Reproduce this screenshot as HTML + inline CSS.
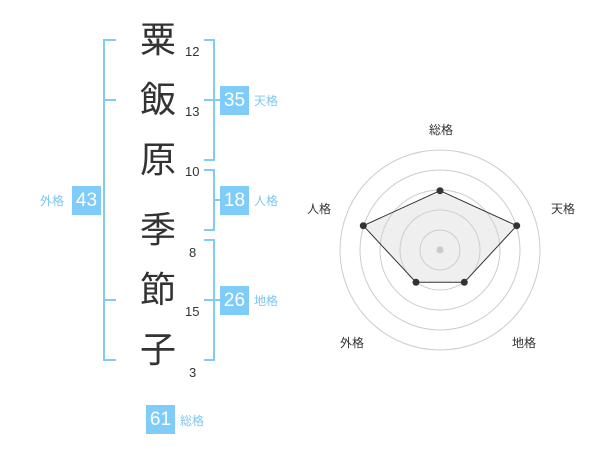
<!DOCTYPE html><html><head><meta charset="utf-8"><style>
body{margin:0;width:600px;height:470px;background:#fff;position:relative;overflow:hidden;font-family:"Liberation Sans","Noto Sans CJK JP",sans-serif}
.k{position:absolute;left:138px;width:40px;text-align:center;font-size:36px;line-height:40px;color:#333}
.n{position:absolute;font-size:13px;color:#333;line-height:14px}
.b{position:absolute;width:29px;height:29px;background:#80ccf9;color:#fff;font-size:19px;line-height:29px;text-align:center}
.l{position:absolute;font-size:12px;color:#7cc6f2;line-height:14px}
.v{position:absolute;background:#80ccf5}
</style></head><body>
<div class="k" style="top:20px">粟</div>
<div class="k" style="top:80px">飯</div>
<div class="k" style="top:140px">原</div>
<div class="k" style="top:210px">季</div>
<div class="k" style="top:270px">節</div>
<div class="k" style="top:330px">子</div>
<div class="n" style="left:185px;top:45px">12</div>
<div class="n" style="left:185px;top:105px">13</div>
<div class="n" style="left:185px;top:165px">10</div>
<div class="n" style="left:189px;top:246px">8</div>
<div class="n" style="left:185px;top:305px">15</div>
<div class="n" style="left:189px;top:366px">3</div>
<div class="v" style="left:103px;top:39px;width:2px;height:322px"></div>
<div class="v" style="left:103px;top:39px;width:13px;height:2px"></div>
<div class="v" style="left:103px;top:99px;width:13px;height:2px"></div>
<div class="v" style="left:103px;top:299px;width:13px;height:2px"></div>
<div class="v" style="left:103px;top:359px;width:13px;height:2px"></div>
<div class="v" style="left:213px;top:39px;width:2px;height:122px"></div>
<div class="v" style="left:204px;top:39px;width:10px;height:2px"></div>
<div class="v" style="left:204px;top:99px;width:10px;height:2px"></div>
<div class="v" style="left:204px;top:159px;width:10px;height:2px"></div>
<div class="v" style="left:213px;top:169px;width:2px;height:62px"></div>
<div class="v" style="left:204px;top:169px;width:10px;height:2px"></div>
<div class="v" style="left:204px;top:229px;width:10px;height:2px"></div>
<div class="v" style="left:213px;top:239px;width:2px;height:122px"></div>
<div class="v" style="left:204px;top:239px;width:10px;height:2px"></div>
<div class="v" style="left:204px;top:299px;width:10px;height:2px"></div>
<div class="v" style="left:204px;top:359px;width:10px;height:2px"></div>
<div class="v" style="left:214px;top:99px;width:6px;height:2px"></div>
<div class="v" style="left:214px;top:199px;width:6px;height:2px"></div>
<div class="v" style="left:214px;top:299px;width:6px;height:2px"></div>
<div class="b" style="left:220px;top:86px">35</div><div class="l" style="left:254px;top:94px">天格</div>
<div class="b" style="left:220px;top:186px">18</div><div class="l" style="left:254px;top:194px">人格</div>
<div class="b" style="left:220px;top:286px">26</div><div class="l" style="left:254px;top:294px">地格</div>
<div class="b" style="left:72px;top:186px">43</div><div class="l" style="left:40px;top:194px">外格</div>
<div class="b" style="left:146px;top:405px">61</div><div class="l" style="left:180px;top:414px">総格</div>
<svg style="position:absolute;left:0;top:0" width="600" height="470">
<g fill="none" stroke="#ccc" stroke-width="1">
<circle cx="440" cy="250" r="20"/><circle cx="440" cy="250" r="40"/><circle cx="440" cy="250" r="60"/><circle cx="440" cy="250" r="80"/><circle cx="440" cy="250" r="100"/></g>
<polygon points="440,190.7 516.7,225.7 464.3,282.3 416,282.3 363.3,225.7" fill="rgba(210,210,210,0.35)" stroke="#333" stroke-width="1"/>
<circle cx="440" cy="250" r="3.5" fill="#ccc"/>
<g fill="#333"><circle cx="440" cy="190.7" r="3.5"/><circle cx="516.7" cy="225.7" r="3.5"/><circle cx="464.3" cy="282.3" r="3.5"/><circle cx="416" cy="282.3" r="3.5"/><circle cx="363.3" cy="225.7" r="3.5"/></g>
<g font-size="12" fill="#333" text-anchor="middle" font-family="Liberation Sans, Noto Sans CJK JP, sans-serif">
<text x="441" y="134">総格</text><text x="563" y="213">天格</text><text x="524" y="347">地格</text><text x="352" y="347">外格</text><text x="319" y="213">人格</text></g>
</svg>
</body></html>
